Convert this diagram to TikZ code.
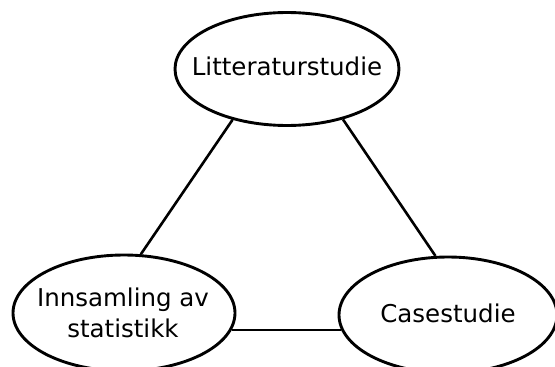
\documentclass[tikz,border=0pt]{standalone}
\usepackage{fontspec}
\setmainfont{DejaVu Sans}
\usetikzlibrary{shapes.geometric}
\begin{document}
\begin{tikzpicture}[x=1pt,y=-1pt,
  oval/.style={draw=black, line width=2.9pt, ellipse, inner sep=0pt, fill=white},
  link/.style={draw=black, line width=2.6pt},
  lbl/.style={anchor=base, inner sep=0pt, font=\fontsize{24.5}{30}\selectfont}]
  \useasboundingbox (0,0) rectangle (555,367);

  % the three ovals
  \node[oval, minimum width=224pt, minimum height=113pt] (lit)  at (287,69)  {};
  \node[oval, minimum width=222pt, minimum height=116pt] (stat) at (124,313) {};
  \node[oval, minimum width=218pt, minimum height=116pt] (case) at (448,315) {};

  % their texts
  \node[lbl] (litT)   at (287,75.7)  {Litteraturstudie};
  \node[lbl] (statT1) at (123,306.7) {Innsamling av};
  \node[lbl] (statT2) at (123,337)   {statistikk};
  \node[lbl] (caseT)  at (448,322.7) {Casestudie};

  % connectors between the ovals
  \draw[link] (lit.223.4) -- (stat.74.3);
  \draw[link] (lit.318.7) -- (case.102.4);
  \draw[link] (stat.-9.3) -- (stat.-9.3 -| case.188.3);
\end{tikzpicture}
\end{document}
